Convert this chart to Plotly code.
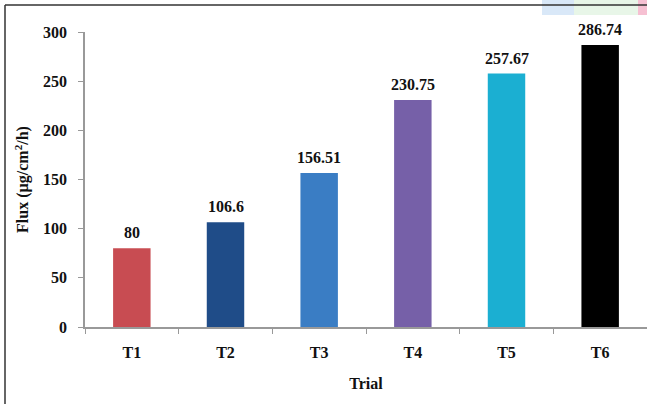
import plotly.graph_objects as go

# Skin permeation flux per trial
trials = ["T1", "T2", "T3", "T4", "T5", "T6"]
flux = [80, 106.6, 156.51, 230.75, 257.67, 286.74]
bar_colors = ["#C84C52", "#1F4C88", "#3A7DC4", "#7660A8", "#1BAFD2", "#000000"]
y_ticks = [0, 50, 100, 150, 200, 250, 300]

FONT = "Liberation Serif"
W, H = 647, 404
L, R, T, B = 85, 0, 32, 77

fig = go.Figure(
    go.Bar(
        x=trials,
        y=flux,
        marker=dict(color=bar_colors, line=dict(width=0)),
        hoverinfo="x+y",
    )
)

# value labels above each bar
for t, v in zip(trials, flux):
    fig.add_annotation(
        x=t, y=v, text=f"<b>{v:g}</b>", showarrow=False,
        yanchor="bottom", yshift=5,
        font=dict(family=FONT, size=16, color="#111111"),
    )

# outer frame (left and top edges)
pw = W - L - R
ph = H - T - B
def px(x):
    return (x - L) / pw
def py(y):
    return (H - B - y) / ph

fig.add_shape(type="line", xref="paper", yref="paper",
              x0=px(5), x1=px(5), y0=py(5), y1=py(H + 2),
              line=dict(color="#333333", width=1.5))
fig.add_shape(type="line", xref="paper", yref="paper",
              x0=px(5), x1=px(W + 2), y0=py(5), y1=py(5),
              line=dict(color="#333333", width=1.5))

# faint colour strips along the top edge
for x0, x1, c in [(542, 574, "rgba(170,205,240,0.45)"),
                  (574, 638, "rgba(205,235,205,0.45)"),
                  (638, 647, "rgba(240,150,180,0.6)")]:
    fig.add_shape(type="rect", xref="paper", yref="paper",
                  x0=px(x0), x1=px(x1), y0=py(15), y1=py(0),
                  line=dict(width=0), fillcolor=c, layer="below")

fig.update_layout(
    width=W, height=H,
    margin=dict(l=L, r=R, t=T, b=B),
    paper_bgcolor="white", plot_bgcolor="white",
    bargap=0.6,
    showlegend=False,
    font=dict(family=FONT, size=16, color="#111111"),
    xaxis=dict(
        type="category",
        tickson="boundaries",
        ticks="outside", ticklen=5, tickcolor="#999999",
        showline=True, linecolor="#999999", linewidth=1.5,
        showgrid=False,
        tickfont=dict(family=FONT, size=16, color="#111111", weight="bold"),
        ticklabelstandoff=10,
        title=dict(text="<b>Trial</b>", font=dict(family=FONT, size=16), standoff=18),
    ),
    yaxis=dict(
        range=[0, 300],
        tickvals=y_ticks,
        ticks="outside", ticklen=5, tickcolor="#999999",
        showline=True, linecolor="#999999", linewidth=1.5,
        showgrid=False, zeroline=False,
        tickfont=dict(family=FONT, size=16, color="#111111", weight="bold"),
        ticklabelstandoff=8,
        title=dict(text="<b>Flux (µg/cm<sup>2</sup>/h)</b>",
                   font=dict(family=FONT, size=16), standoff=10),
    ),
)

fig.write_html("out.html")
